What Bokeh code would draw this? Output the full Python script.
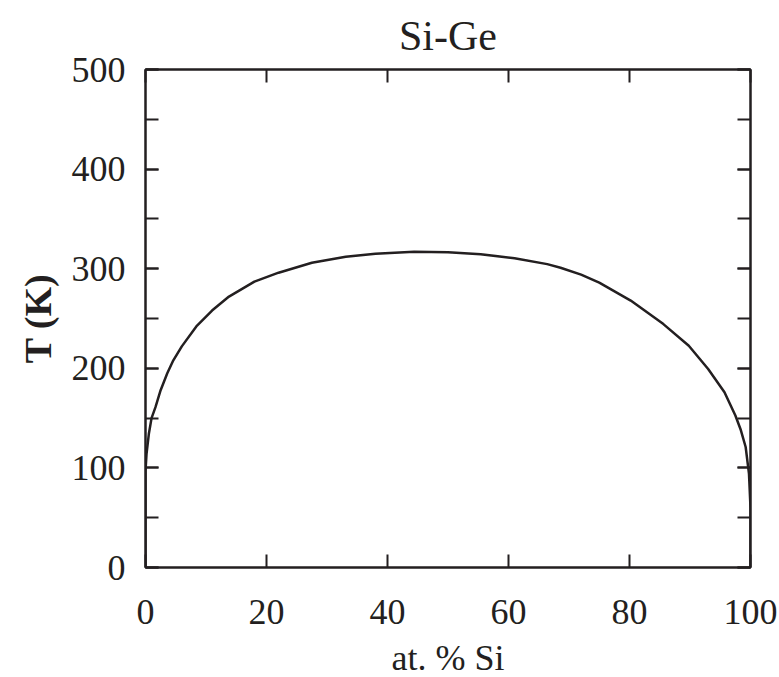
from bokeh.plotting import figure
from bokeh.models import (Range1d, LinearAxis, SingleIntervalTicker,
                          CustomJSTickFormatter, Title)
from bokeh.embed import file_html
from bokeh.resources import INLINE

# Miscibility-gap boundary of the Si-Ge system
si_pct = [0, 0, 0.17, 0.55, 1.0, 1.65, 2.5, 3.6, 4.6, 6.0, 8.4, 11.0, 13.8,
          18.0, 22.0, 27.5, 33.1, 38.0, 44.4, 50.0, 55.4, 61.0, 66.4, 68.6,
          72.0, 75.0, 80.2, 85.6, 89.8, 93.0, 95.7, 97.5, 98.4, 99.2, 99.75,
          100, 100]
temp_k = [0, 97, 114, 134, 150, 161, 178, 195, 208, 222, 242, 258, 272,
          287, 296, 306, 312, 315, 317, 316.5, 314.6, 310.5, 304.6, 301,
          294, 286, 268, 244.4, 222.7, 199.3, 176, 152.6, 138, 121, 94,
          60, 0]

x_ticks = [0, 20, 40, 60, 80, 100]
y_ticks = [0, 100, 200, 300, 400, 500]

INK = "#231f20"
FONT = "Liberation Serif"
FW, FH = 605, 498

p = figure(frame_width=FW, frame_height=FH,
           min_border_left=145, min_border_right=29,
           min_border_top=69, min_border_bottom=110,
           x_range=Range1d(0, 100), y_range=Range1d(0, 500),
           title=None, toolbar_location=None, output_backend="svg",
           x_axis_label="at. % Si", y_axis_label="T (K)")

p.grid.visible = False
p.background_fill_color = "white"
p.border_fill_color = "white"
p.outline_line_color = INK
p.outline_line_width = 2

xt = SingleIntervalTicker(interval=20, num_minor_ticks=0)
yt = SingleIntervalTicker(interval=100, num_minor_ticks=2)


def style_axis(ax, ticker):
    ax.ticker = ticker
    ax.axis_line_color = INK
    ax.axis_line_width = 2
    ax.major_tick_line_color = INK
    ax.major_tick_line_width = 2
    ax.major_tick_in = 13
    ax.major_tick_out = 0
    ax.minor_tick_line_color = INK
    ax.minor_tick_line_width = 2
    ax.minor_tick_in = 13
    ax.minor_tick_out = 0
    ax.major_label_text_font = FONT
    ax.major_label_text_font_size = "36px"
    ax.major_label_text_color = INK
    ax.axis_label_text_font = FONT
    ax.axis_label_text_color = INK


xa = p.xaxis[0]
style_axis(xa, xt)
xa.major_label_standoff = 32
xa.axis_label_text_font_size = "36px"
xa.axis_label_text_font_style = "normal"
xa.axis_label_standoff = 11

ya = p.yaxis[0]
style_axis(ya, yt)
ya.major_label_standoff = 20
ya.axis_label_text_font_size = "38px"
ya.axis_label_text_font_style = "bold"
ya.axis_label_standoff = 10

# Mirror ticks on the top and right edges, without labels
blank = CustomJSTickFormatter(code="return ''")
top = LinearAxis(formatter=blank)
style_axis(top, SingleIntervalTicker(interval=20, num_minor_ticks=0))
top.major_label_standoff = 0
top.major_label_text_font_size = "1px"
p.add_layout(top, "above")

right = LinearAxis(formatter=blank)
style_axis(right, SingleIntervalTicker(interval=100, num_minor_ticks=2))
right.major_label_standoff = 0
right.major_label_text_font_size = "1px"
p.add_layout(right, "right")

p.add_layout(Title(text="Si-Ge", align="center", text_font=FONT,
                   text_font_size="42px", text_font_style="normal",
                   text_color=INK, standoff=21), "above")

p.line(si_pct, temp_k, line_color=INK, line_width=2.5)

open("out.html", "w").write(file_html(p, INLINE))
